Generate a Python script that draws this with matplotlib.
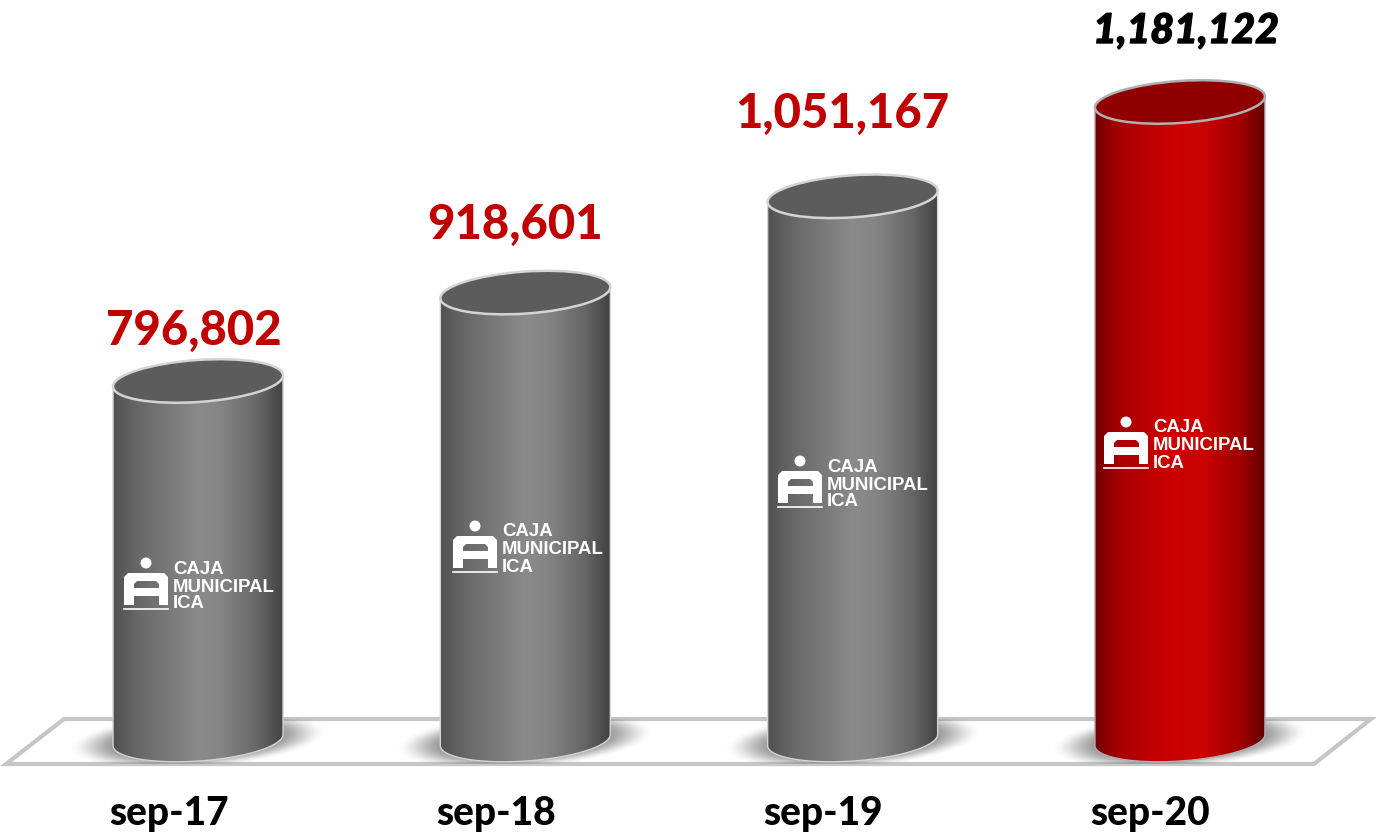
#!/usr/bin/env python3
import numpy as np
import matplotlib
matplotlib.use("Agg")
import matplotlib.pyplot as plt
import matplotlib.patheffects as pe
from matplotlib.colors import LinearSegmentedColormap
from matplotlib.patches import Ellipse, PathPatch, Polygon, Circle
from matplotlib.path import Path

categories = ["sep-17", "sep-18", "sep-19", "sep-20"]
values = [796802, 918601, 1051167, 1181122]
value_labels = ["796,802", "918,601", "1,051,167", "1,181,122"]

# layout in pixels of the picture
label_x = [193.5, 515.5, 842, 1186]
label_y = [345, 239, 128, 43]
cat_x = [169, 496, 823, 1150]
logo_x = [124, 453, 778, 1104]
logo_y = [557, 520, 455, 416]
base_y = 740
half_w = 85
tilt = 4

gray = LinearSegmentedColormap.from_list("g", [(0, "#505050"), (0.15, "#686868"), (0.5, "#8a8a8a"),
                                               (0.62, "#868686"), (0.85, "#666666"), (1, "#404040")])
red = LinearSegmentedColormap.from_list("r", [(0, "#700000"), (0.15, "#a80000"), (0.45, "#cc0000"),
                                              (0.65, "#c80000"), (0.85, "#a00000"), (1, "#600000")])

fig = plt.figure(figsize=(13.76, 8.32), dpi=100)
# value scale (y) and category scale (x), not zero based like the original
ax = fig.add_axes([0, 0, 1, 1])
ax.set_xlim(-0.605, 3.599)
ax.set_ylim(175570, 1321570)
ax.axis("off")
# pixel axes on top for the drawing
px = fig.add_axes([0, 0, 1, 1])
px.patch.set_alpha(0)
px.axis("off")
px.set_xlim(0, 1376)
px.set_ylim(832, 0)


def to_px(i, v):
    return px.transData.inverted().transform(ax.transData.transform((i, v)))


def ell_points(cx, cy, t0, t1, n=60):
    a, b, th = 85.2, 21, np.radians(tilt)
    t = np.linspace(t0, t1, n)
    x = a * np.cos(t) * np.cos(th) + b * np.sin(t) * np.sin(th)
    y = -a * np.cos(t) * np.sin(th) + b * np.sin(t) * np.cos(th)
    return np.column_stack([cx + x, cy + y])


def draw_shadow(cx, floor):
    xs = np.linspace(cx - 135, cx + 135, 270)
    ys = np.linspace(base_y - 35, base_y + 35, 70)
    xx, yy = np.meshgrid(xs - cx, ys - base_y)
    th = np.radians(tilt)
    u = xx * np.cos(th) - yy * np.sin(th)
    w = xx * np.sin(th) + yy * np.cos(th)
    r = np.sqrt((u / 128) ** 2 + (w / 28) ** 2)
    alpha = np.clip((1.02 - r) / 0.42, 0, 1)
    alpha = alpha * alpha * (3 - 2 * alpha) * 0.6
    img = np.zeros((70, 270, 4))
    img[..., :3] = 0.3
    img[..., 3] = alpha
    im = px.imshow(img, extent=(xs[0], xs[-1], ys[-1], ys[0]), aspect="auto", zorder=2, interpolation="bilinear")
    im.set_clip_path(floor)


def draw_cylinder(cx, top, cmap, top_color, rim):
    front = ell_points(cx, base_y, np.pi, 0, 60)
    left = ell_points(cx, top, np.pi, np.pi, 1)
    right = ell_points(cx, top, 0, 0, 1)
    verts = np.vstack([left, front, right, left])
    codes = [Path.MOVETO] + [Path.LINETO] * (len(verts) - 2) + [Path.CLOSEPOLY]
    body = PathPatch(Path(verts, codes), fc="none", ec=rim, lw=1.0, zorder=3.2)
    px.add_patch(body)
    grad = np.linspace(0, 1, 256).reshape(1, -1)
    im = px.imshow(grad, cmap=cmap, extent=(cx - half_w - 1, cx + half_w + 1, base_y + 30, top - 15),
                   aspect="auto", zorder=3, interpolation="bilinear")
    im.set_clip_path(body)
    px.add_patch(Ellipse((cx, top), 170.4, 42, angle=-tilt, fc=top_color, ec=rim, lw=1.8, zorder=4))


def draw_logo(x, y):
    # mark: dot, block with a hole and an open slot, rule
    px.add_patch(Circle((x + 22, y + 6), 5.5, fc="white", ec="none", zorder=5))
    outer = [(x, y + 20), (x + 4, y + 16), (x + 40, y + 16), (x + 44, y + 20), (x + 44, y + 48),
             (x + 35, y + 48), (x + 35, y + 39), (x + 10, y + 39), (x + 10, y + 48), (x, y + 48), (x, y + 20)]
    hole = [(x + 10, y + 31), (x + 35, y + 31), (x + 35, y + 27), (x + 32, y + 24),
            (x + 13, y + 24), (x + 10, y + 27), (x + 10, y + 31)]
    verts = outer + hole
    codes = [Path.MOVETO] + [Path.LINETO] * 9 + [Path.CLOSEPOLY]
    codes += [Path.MOVETO] + [Path.LINETO] * 5 + [Path.CLOSEPOLY]
    px.add_patch(PathPatch(Path(verts, codes), fc="white", ec="none", zorder=5))
    px.plot([x, x + 44], [y + 52, y + 52], color="white", lw=1.2, zorder=5)
    for dy, t in zip([12, 30, 47], ["CAJA", "MUNICIPAL", "ICA"]):
        px.text(x + 49, y + dy, t, color="white", fontsize=13.4, fontweight="bold",
                family="Liberation Sans", va="center", ha="left", zorder=5)


floor = Polygon([(64, 719), (1371, 719), (1314, 764), (6, 764)], closed=True,
                fc="white", ec="#c6c6c6", lw=3.0, joinstyle="miter", zorder=1)
px.add_patch(floor)

for i, v in enumerate(values):
    cx, top = to_px(i, v)
    draw_shadow(cx, floor)
    if i == 3:
        draw_cylinder(cx, top, red, "#910000", "#b0b0b0")
    else:
        draw_cylinder(cx, top, gray, "#5c5c5c", "#d4d4d4")
    draw_logo(logo_x[i], logo_y[i])
    if i == 3:
        px.text(label_x[i], label_y[i], value_labels[i], color="black", fontsize=29.5, fontweight=900,
                style="italic", family="Lato", ha="center", va="baseline", zorder=6,
                path_effects=[pe.withStroke(linewidth=1.0, foreground="black")])
    else:
        px.text(label_x[i], label_y[i], value_labels[i], color="#c00000", fontsize=34, fontweight=900,
                family="Lato", ha="center", va="baseline", zorder=6)
    px.text(cat_x[i], 825, categories[i], color="black", fontsize=28, fontweight=900,
            family="Lato", ha="center", va="baseline", zorder=6)

px.set_xlim(0, 1376)
px.set_ylim(832, 0)
fig.savefig("out.png", dpi=100, facecolor="white")
